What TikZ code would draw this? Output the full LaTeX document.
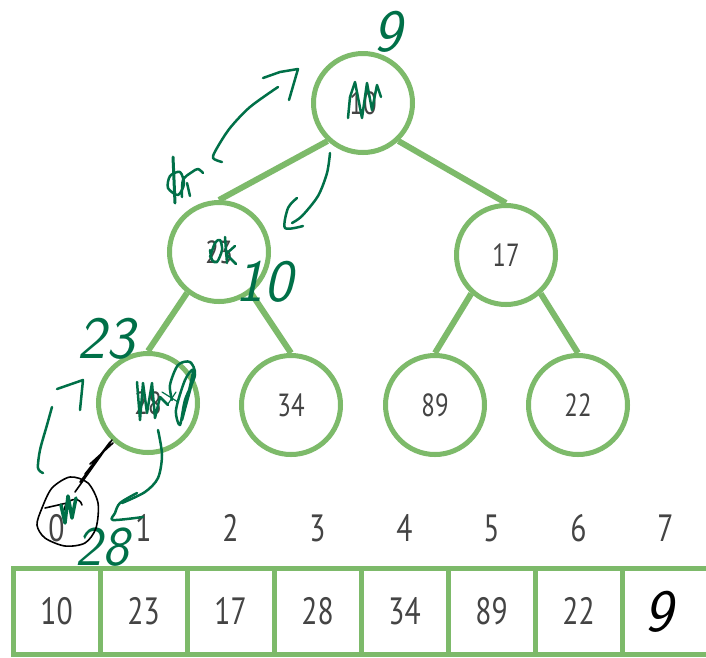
\documentclass[tikz,border=0pt]{standalone}
\usepackage{fontspec}
\setmainfont[FakeStretch=0.78]{PT Sans}
\definecolor{ring}{RGB}{125,186,106}
\definecolor{ink}{RGB}{0,112,72}
\definecolor{num}{RGB}{68,68,68}
\begin{document}
\begin{tikzpicture}[x=1pt,y=-1pt,
  circ/.style={circle,draw=ring,line width=5pt,minimum size=99pt,inner sep=0pt,text=num,font=\fontsize{32}{32}\selectfont},
  cell/.style={rectangle,draw=ring,line width=5pt,minimum width=87pt,minimum height=86pt,inner sep=0pt,text=num,font=\fontsize{38}{38}\selectfont},
  idx/.style={inner sep=0pt,text=num,font=\fontsize{38}{38}\selectfont},
  link/.style={draw=ring,line width=6pt},
  pen/.style={draw=ink,line width=2.5pt,line cap=round,line join=round},
  bpen/.style={draw=black,line width=1.6pt,line cap=round,line join=round},
  hand/.style={inner sep=0pt,text=ink,font=\sffamily\itshape\fontsize{60}{60}\selectfont}]
\useasboundingbox (0,0) rectangle (706,657);
\fill[white] (0,0) rectangle (706,657);
% tree
\node[circ] (root) at (363,103) {10};
\node[circ] (n1) at (219,252) {23};
\node[circ] (n2) at (506,255) {17};
\node[circ] (n3) at (148,403) {28};
\node[circ] (n4) at (291,405) {34};
\node[circ] (n5) at (435,405) {89};
\node[circ] (n6) at (578,405) {22};
\draw[link] (root.227) -- (n1.north);
\draw[link] (root.313) -- (n2.north);
\draw[link] (n1.232) -- (n3.north);
\draw[link] (n1.308) -- (n4.north);
\draw[link] (n2.228) -- (n5.north);
\draw[link] (n2.312) -- (n6.north);
% array
\foreach \i/\v in {0/10,1/23,2/17,3/28,4/34,5/89,6/22,7/{}} {
  \node[cell] (c\i) at ({56.5+87*\i},611) {\v};
  \node[idx] (i\i) at ({56.5+87*\i},528) {\i};
}
% handwriting: texts
\node[hand] (h9) at (388,32) {9};
\node[hand] (h10) at (264,282) {10};
\node[hand] (h23) at (106,339) {23};
\node[hand,font=\sffamily\itshape\fontsize{56}{56}\selectfont] (h28) at (102,547) {28};
\node[hand,text=black] (b9) at (659,612) {9};
% scribble over root
\draw[pen] (348,118)--(350,97)--(355,82)--(362,118)--(367,83)--(372,110)--(377,85)--(381,97);
% arrow up-right to root
\draw[pen] plot[smooth] coordinates {(222,162)(213,158)(217,148)(230,128)(250,107)(278,87)};
\draw[pen] (263,78)--(280,72)--(298,69)--(289,100);
% arrow down from root
\draw[pen] plot[smooth] coordinates {(330,153)(327,173)(318,196)(302,216)(292,223)};
\draw[pen] plot[smooth] coordinates {(297,198)(288,208)(285,228)(303,226)};
% scribbled 10 at left
\draw[pen,line width=3pt] (173,157)--(175,203);
\draw[pen] plot[smooth cycle] coordinates {(170,176)(180,172)(184,184)(178,195)(168,188)};
\draw[pen] plot[smooth] coordinates {(182,197)(183,180)(192,172)(198,169)(203,173)};
\draw[pen] (187,183)--(190,196);
% scribble over 23
\draw[pen] plot[smooth] coordinates {(210,257)(215,243)(220,240)(222,250)(217,262)(212,260)(210,250)};
\draw[pen] (225,237)--(227,263);
\draw[pen] (235,246)--(226,254)--(236,264);
% scribble over 28
\draw[pen] (137,382)--(140,420)--(143,383)--(147,413)--(152,383)--(155,418)--(160,397)--(168,405);
\draw[pen] plot[smooth] coordinates {(172,400)(170,385)(178,365)(190,362)(195,375)(185,400)(180,425)(176,410)(185,380)(193,370)(188,395)(182,420)(186,405)(195,372)};
\draw[pen,line width=1.2pt] (162,392)--(178,402) (168,404)--(176,392);
% arrow up to 23
\draw[pen] plot[smooth] coordinates {(43,473)(38,468)(40,450)(47,425)(52,407)};
\draw[pen] (57,389)--(83,380)--(80,410);
% arrow down from 28
\draw[pen] plot[smooth] coordinates {(158,430)(162,455)(158,478)(145,492)(122,503)};
\draw[pen] plot[smooth] coordinates {(137,493)(120,503)(115,513)(113,520)(143,517)};
% black loop around index 0
\draw[bpen] plot[smooth cycle] coordinates {(70,477)(88,483)(98,503)(96,528)(85,543)(65,546)(45,538)(37,525)(42,508)(52,488)};
\draw[bpen] (45,508)--(67,503);
\draw[bpen] (64,510) .. controls (66,498) and (80,496) .. (82,505);
\draw[bpen] (75,492)--(112,440) (80,482)--(110,442) (85,474)--(108,445) (90,464)--(113,443);
\draw[pen,line width=3.5pt] (61,505)--(65,523)--(68,496)--(72,518)--(76,498);
\end{tikzpicture}
\end{document}
